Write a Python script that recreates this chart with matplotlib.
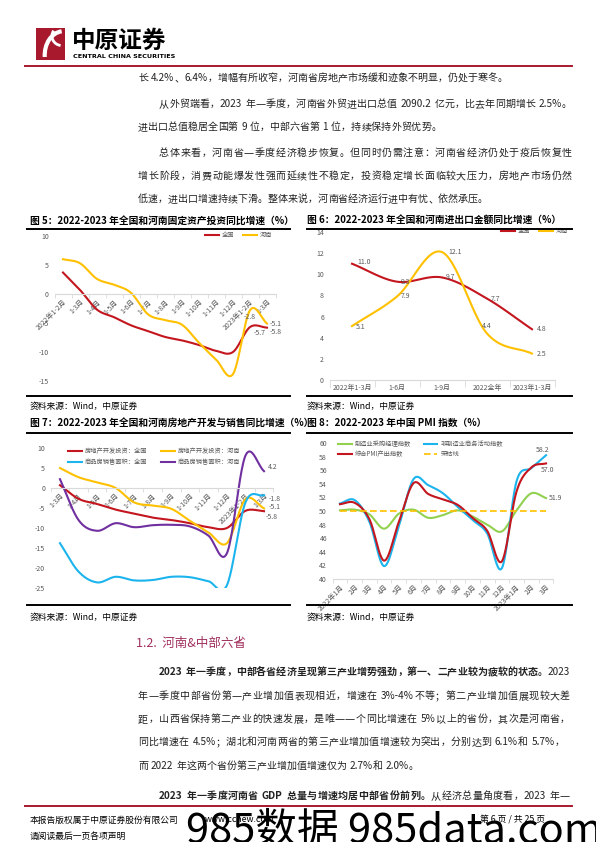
import re
import numpy as np
import matplotlib
matplotlib.use('Agg')
import matplotlib.pyplot as plt
from matplotlib.lines import Line2D
from matplotlib.patches import Arc

plt.rcParams['font.family'] = ['Noto Sans CJK SC', 'DejaVu Sans']
plt.rcParams['axes.unicode_minus'] = False

W, H = 596, 842

############################################################################## Data

# Fig 5: fixed asset (real estate) investment growth, %
f5_x = ['2022年1-2月', '1-3月', '1-4月', '1-5月', '1-6月', '1-7月', '1-8月', '1-9月',
        '1-10月', '1-11月', '1-12月', '2023年1-2月', '1-3月']
f5_nat = [3.7, 0.7, -2.7, -4.0, -5.4, -6.4, -7.4, -8.0, -8.8, -9.8, -10.0, -5.7, -5.8]
f5_hn = [6.0, 5.3, 2.6, 1.6, 0.2, -3.5, -4.5, -5.3, -8.4, -11.3, -13.8, -2.8, -5.1]

# Fig 6: import & export growth, %
f6_x = ['2022年1-3月', '1-6月', '1-9月', '2022全年', '2023年1-3月']
f6_nat = [11.0, 9.3, 9.7, 7.7, 4.8]
f6_hn = [5.1, 7.9, 12.1, 4.4, 2.5]

# Fig 7: real estate investment & sales area growth, %
f7_x = ['1-3月', '1-4月', '1-5月', '1-6月', '1-7月', '1-8月', '1-9月', '1-10月',
        '1-11月', '1-12月', '2023年1-2月', '1-3月']
f7_inv_nat = [0.7, -2.7, -4.0, -5.4, -6.4, -7.4, -8.0, -8.8, -9.8, -10.0, -5.7, -5.8]
f7_inv_hn = [5.0, 2.7, 1.4, 0.0, -3.6, -4.4, -5.2, -8.2, -11.1, -13.8, -2.8, -5.1]
f7_sale_nat = [-13.8, -20.9, -23.6, -22.2, -23.1, -23.0, -22.2, -22.3, -23.3, -24.3, -3.6, -1.8]
f7_sale_hn = [2.2, -8.0, -10.7, -8.8, -9.8, -9.3, -9.2, -9.6, -11.9, -16.3, 8.1, 4.2]

# Fig 8: PMI
f8_x = ['2022年1月', '2月', '3月', '4月', '5月', '6月', '7月', '8月', '9月', '10月',
        '11月', '12月', '2023年1月', '2月', '3月']
f8_mfg = [50.1, 50.2, 49.5, 47.4, 49.6, 50.2, 49.0, 49.4, 50.1, 49.2, 48.0, 47.0, 50.1, 52.6, 51.9]
f8_nonmfg = [51.1, 51.6, 48.4, 41.9, 47.8, 54.7, 53.8, 52.6, 50.6, 48.7, 46.7, 41.6, 54.4, 56.3, 58.2]
f8_comp = [51.0, 51.2, 48.8, 42.7, 48.4, 54.1, 52.5, 51.7, 50.9, 49.0, 47.1, 42.6, 52.9, 56.4, 57.0]
f8_line = 50

RED = '#C3161E'
YEL = '#FFC000'
BLUE = '#1CB4EC'
PURP = '#7030A0'
GREEN = '#92D050'
GREY = '#595959'
BRAND = '#A8192E'

############################################################################## Helpers

fig = plt.figure(figsize=(W / 100, H / 100), dpi=100)
fig.patch.set_facecolor('white')
renderer = fig.canvas.get_renderer()


def fx(x):
    return x / W


def fy(y):
    return 1 - y / H


def box(l, t, r, b):
    return [l / W, 1 - b / H, (r - l) / W, (b - t) / H]


def hline(y, x0, x1, color='black', lw=1.2):
    fig.add_artist(Line2D([fx(x0), fx(x1)], [fy(y), fy(y)], transform=fig.transFigure,
                          color=color, lw=lw))


def put_line(y, segs, x0, x1=None, size=7.2):
    # draw a text line token by token, spreading the gaps to reach x1
    toks = []
    for s, w in segs:
        toks += [(t, w) for t in re.findall(r'[\x21-\x7e]+| |.', s)]
    objs, widths = [], []
    for t, w in toks:
        if t == ' ':
            objs.append(None)
            widths.append(3.0)
            continue
        o = fig.text(0, fy(y), t, fontsize=size, weight=w, va='center', color='#222222')
        objs.append(o)
        widths.append(o.get_window_extent(renderer).width)
    gap = 0.0
    if x1 is not None:
        gap = (x1 - x0 - sum(widths)) / (len(objs) - 1)
    x = x0
    for o, w in zip(objs, widths):
        if o is not None:
            o.set_x(fx(x))
        x += w + gap


def smooth(y, n=24):
    y = np.asarray(y, float)
    p = np.concatenate([[2 * y[0] - y[1]], y, [2 * y[-1] - y[-2]]])
    t = np.linspace(0, 1, n, endpoint=False)
    xs, ys = [], []
    for i in range(len(y) - 1):
        p0, p1, p2, p3 = p[i:i + 4]
        ys.append(0.5 * (2 * p1 + (p2 - p0) * t + (2 * p0 - 5 * p1 + 4 * p2 - p3) * t ** 2
                         + (3 * p1 - p0 - 3 * p2 + p3) * t ** 3))
        xs.append(i + t)
    xs.append([len(y) - 1])
    ys.append([y[-1]])
    return np.concatenate(xs), np.concatenate(ys)


def style(ax, labels, rot=True, zero=False):
    for s in ['top', 'right', 'left']:
        ax.spines[s].set_visible(False)
    if zero:
        ax.spines['bottom'].set_position(('data', 0))
    ax.spines['bottom'].set_color('#d9d9d9')
    ax.patch.set_alpha(0)
    ax.tick_params(axis='y', length=0, labelsize=5, labelcolor=GREY, pad=4)
    n = len(labels)
    ax.set_xlim(-0.5, n - 0.5)
    ax.set_xticks(np.arange(n))
    ax.set_xticks(np.arange(-0.5, n, 1), minor=True)
    ax.tick_params(axis='x', which='minor', length=3, color='#d9d9d9')
    ax.tick_params(axis='x', which='major', length=0, labelsize=5, labelcolor=GREY, pad=3)
    if rot:
        ax.set_xticklabels(labels, rotation=45, ha='right', rotation_mode='anchor')
    else:
        ax.set_xticklabels(labels)


def label(ax, i, v, txt, dx, dy, ha='left'):
    ax.annotate(txt, (i, v), xytext=(dx, dy), textcoords='offset pixels', fontsize=5,
                color=GREY, ha=ha, va='center')


############################################################################## Header

logo = fig.add_axes(box(36, 28, 65, 60))
logo.set_facecolor(BRAND)
logo.set_xticks([])
logo.set_yticks([])
for s in logo.spines.values():
    s.set_visible(False)
logo.set_xlim(0, 1)
logo.set_ylim(0, 1)
logo.add_patch(Arc((0.95, 0.15), 1.3, 1.5, theta1=95, theta2=185, color='white', lw=3))
logo.add_patch(Arc((0.9, 0.75), 0.7, 0.6, theta1=150, theta2=260, color='white', lw=2))
fig.text(fx(72), fy(41), '中原证券', fontsize=17, weight='bold', va='center')
fig.text(fx(73), fy(56), 'CENTRAL CHINA SECURITIES', fontsize=4.6, weight='bold', va='center',
         family='DejaVu Sans')
hline(66, 25, 572, color=BRAND, lw=1.4)

############################################################################## Body text (top)

put_line(78, [('长 4.2%、6.4%，增幅有所收窄，河南省房地产市场缓和迹象不明显，仍处于寒冬。', 'normal')], 138)
put_line(104, [('从外贸端看，2023 年一季度，河南省外贸进出口总值 2090.2 亿元，比去年同期增长 2.5%。', 'normal')], 159, 572)
put_line(127, [('进出口总值稳居全国第 9 位，中部六省第 1 位，持续保持外贸优势。', 'normal')], 138)
put_line(153, [('总体来看，河南省一季度经济稳步恢复。但同时仍需注意：河南省经济仍处于疫后恢复性', 'normal')], 159, 572)
put_line(176, [('增长阶段，消费动能爆发性强而延续性不稳定，投资稳定增长面临较大压力，房地产市场仍然', 'normal')], 138, 572)
put_line(199, [('低速，进出口增速持续下滑。整体来说，河南省经济运行进中有忧、依然承压。', 'normal')], 138)

############################################################################## Chart titles & rules

fig.text(fx(30), fy(221), '图 5：2022-2023 年全国和河南固定资产投资同比增速（%）', fontsize=7, weight='bold', va='center')
fig.text(fx(307), fy(221), '图 6：2022-2023 年全国和河南进出口金额同比增速（%）', fontsize=7, weight='bold', va='center')
fig.text(fx(30), fy(423), '图 7：2022-2023 年全国和河南房地产开发与销售同比增速（%）', fontsize=7, weight='bold', va='center')
fig.text(fx(307), fy(423), '图 8：2022-2023 年中国 PMI 指数（%）', fontsize=7, weight='bold', va='center')
for y in (229, 396, 433, 605):
    hline(y, 27, 290, lw=1.4)
    hline(y, 307, 572, lw=1.4)
for y in (406, 617):
    fig.text(fx(30), fy(y), '资料来源：Wind，中原证券', fontsize=6.3, va='center')
    fig.text(fx(307), fy(y), '资料来源：Wind，中原证券', fontsize=6.3, va='center')

############################################################################## Fig 5

ax5 = fig.add_axes(box(54.5, 236, 275.5, 381))
h1, = ax5.plot(*smooth(f5_nat), color=RED, lw=1.5)
h2, = ax5.plot(*smooth(f5_hn), color=YEL, lw=1.5)
style(ax5, f5_x, zero=True)
ax5.set_ylim(-15, 10)
ax5.set_yticks([-15, -10, -5, 0, 5, 10])
label(ax5, 11, f5_hn[11], '-2.8', 0, -7, ha='center')
label(ax5, 11, f5_nat[11], '-5.7', 4, -6)
label(ax5, 12, f5_hn[12], '-5.1', 3, 0)
label(ax5, 12, f5_nat[12], '-5.8', 3, -4)
ax5.legend([h1, h2], ['全国', '河南'], loc='upper right', bbox_to_anchor=(fx(272), fy(231)),
           bbox_transform=fig.transFigure, ncol=2, frameon=False, fontsize=4.5,
           handlelength=2.2, handletextpad=0.4, columnspacing=1.5, borderaxespad=0, borderpad=0,
           labelcolor=GREY)

############################################################################## Fig 6

ax6 = fig.add_axes(box(329.5, 232, 554.5, 380))
h1, = ax6.plot(*smooth(f6_nat), color=RED, lw=1.5)
h2, = ax6.plot(*smooth(f6_hn), color=YEL, lw=1.5)
style(ax6, f6_x, rot=False)
ax6.tick_params(axis='x', which='minor', length=5)
ax6.set_ylim(0, 14)
ax6.set_yticks(range(0, 15, 2))
label(ax6, 0, f6_nat[0], '11.0', 5, 2)
label(ax6, 0, f6_hn[0], '5.1', 4, -1)
label(ax6, 1, f6_nat[1], '9.3', 4, 0)
label(ax6, 1, f6_hn[1], '7.9', 4, 0)
label(ax6, 2, f6_hn[2], '12.1', 6, 0)
label(ax6, 2, f6_nat[2], '9.7', 4, 0)
label(ax6, 3, f6_nat[3], '7.7', 4, 0)
label(ax6, 3, f6_hn[3], '4.4', 0, 7, ha='center')
label(ax6, 4, f6_nat[4], '4.8', 5, 0)
label(ax6, 4, f6_hn[4], '2.5', 5, 0)
ax6.legend([h1, h2], ['全国', '河南'], loc='upper right', bbox_to_anchor=(fx(568), fy(227)),
           bbox_transform=fig.transFigure, ncol=2, frameon=False, fontsize=4.5,
           handlelength=2.2, handletextpad=0.4, columnspacing=1.5, borderaxespad=0, borderpad=0,
           labelcolor=GREY)

############################################################################## Fig 7

ax7 = fig.add_axes(box(50.7, 448, 273.3, 588))
ha, = ax7.plot(*smooth(f7_inv_nat), color=RED, lw=1.5)
hb, = ax7.plot(*smooth(f7_inv_hn), color=YEL, lw=1.5)
hc, = ax7.plot(*smooth(f7_sale_nat), color=BLUE, lw=1.5)
hd, = ax7.plot(*smooth(f7_sale_hn), color=PURP, lw=1.5)
style(ax7, f7_x, zero=True)
ax7.set_ylim(-25, 10)
ax7.set_yticks(range(-25, 11, 5))
label(ax7, 11, f7_sale_hn[11], '4.2', 4, 4)
label(ax7, 11, f7_sale_nat[11], '-1.8', 5, -4)
label(ax7, 11, f7_inv_hn[11], '-5.1', 5, 1)
label(ax7, 11, f7_inv_nat[11], '-5.8', 2, -6)
ax7.legend([ha, hc, hb, hd], ['房地产开发投资：全国', '商品房销售面积：全国',
                              '房地产开发投资：河南', '商品房销售面积：河南'],
           loc='upper left', bbox_to_anchor=(fx(68), fy(447)), bbox_transform=fig.transFigure,
           ncol=2, frameon=False, fontsize=4.5, handlelength=2.2, handletextpad=0.5,
           columnspacing=2.2, labelspacing=0.5, borderaxespad=0, borderpad=0, labelcolor=GREY)

############################################################################## Fig 8

ax8 = fig.add_axes(box(332.6, 443, 553.4, 579))
g1, = ax8.plot(*smooth(f8_mfg), color=GREEN, lw=1.5)
g2, = ax8.plot(*smooth(f8_nonmfg), color=BLUE, lw=1.5)
g3, = ax8.plot(*smooth(f8_comp), color=RED, lw=1.5)
ax8.hlines(f8_line, 0, len(f8_x) - 1, colors=YEL, linestyles=(0, (4, 2)), lw=1.2)
style(ax8, f8_x)
ax8.set_ylim(40, 60)
ax8.set_yticks(range(40, 61, 2))
label(ax8, 14, f8_nonmfg[14], '58.2', -3, 5, ha='center')
label(ax8, 14, f8_comp[14], '57.0', 2, -7, ha='center')
label(ax8, 14, f8_mfg[14], '51.9', 3, 0)
ax8.legend([g1, g3, g2, Line2D([], [], color=YEL, ls=(0, (4, 2)), lw=1.2)],
           ['制造业采购经理指数', '综合PMI产出指数', '非制造业商务活动指数', '荣枯线'],
           loc='upper left', bbox_to_anchor=(fx(338), fy(440)), bbox_transform=fig.transFigure,
           ncol=2, frameon=False, fontsize=4.5, handlelength=2.2, handletextpad=0.5,
           columnspacing=2.0, labelspacing=0.3, borderaxespad=0, borderpad=0, labelcolor=GREY)

############################################################################## Section 1.2

fig.text(fx(136), fy(643), '1.2.  河南&中部六省', fontsize=9, color='#A0305E', va='center')
put_line(672, [('2023 年一季度，中部各省经济呈现第三产业增势强劲，第一、二产业较为疲软的状态。', 'bold'),
               ('2023', 'normal')], 159, 570)
put_line(696, [('年一季度中部省份第一产业增加值表现相近，增速在 3%-4%不等；第二产业增加值展现较大差', 'normal')], 138, 570)
put_line(719, [('距，山西省保持第二产业的快速发展，是唯一一个同比增速在 5%以上的省份，其次是河南省，', 'normal')], 138, 570)
put_line(742, [('同比增速在 4.5%；湖北和河南两省的第三产业增加值增速较为突出，分别达到 6.1%和 5.7%，', 'normal')], 138, 565)
put_line(766, [('而 2022 年这两个省份第三产业增加值增速仅为 2.7%和 2.0%。', 'normal')], 138)
put_line(796, [('2023 年一季度河南省 GDP 总量与增速均居中部省份前列。', 'bold'),
               ('从经济总量角度看，2023 年一', 'normal')], 159, 570)

############################################################################## Footer

hline(806, 25, 572, color=BRAND, lw=1.4)
fig.text(fx(30), fy(820), '本报告版权属于中原证券股份有限公司', fontsize=6.3, va='center')
fig.text(fx(205), fy(820), 'www.ccnew.com', fontsize=6.3, va='center')
fig.text(fx(480), fy(820), '第 6 页 / 共 25 页', fontsize=6.3, va='center')
fig.text(fx(30), fy(836), '请阅读最后一页各项声明', fontsize=6.3, va='center')
fig.text(fx(186), fy(831), '985数据 985data.com', fontsize=30, va='center', color='black', zorder=10)

fig.savefig('out.png', dpi=100)
